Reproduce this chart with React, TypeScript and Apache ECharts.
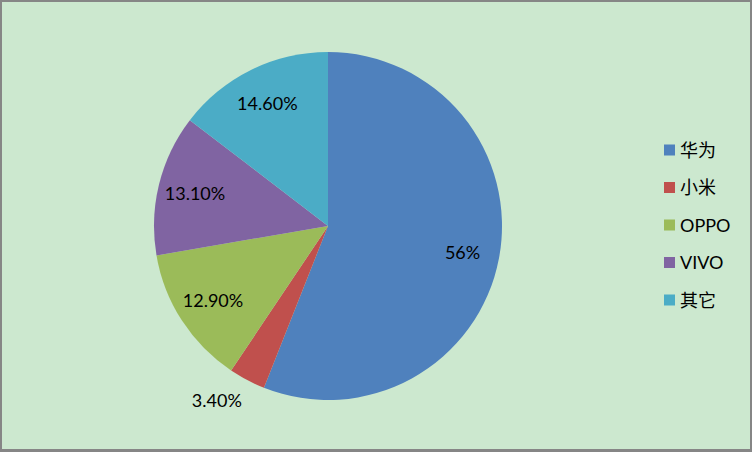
import React, { useEffect, useRef } from "react";
import * as echarts from "echarts";

const categories = ["华为", "小米", "OPPO", "VIVO", "其它"];
const shares = [56, 3.4, 12.9, 13.1, 14.6];
const colors = ["#4F81BD", "#C0504D", "#9BBB59", "#8064A2", "#4BACC6"];
const outsideLabelNames = ["小米"];

const fmt = (v: number) => (Number.isInteger(v) ? `${v}%` : `${v.toFixed(2)}%`);

export default function App() {
  const ref = useRef<HTMLDivElement>(null);
  useEffect(() => {
    if (!ref.current) return;
    const chart = echarts.init(ref.current, null, { renderer: "svg" });
    const font = "Lato, 'Noto Sans CJK SC', sans-serif";
    chart.setOption({
      animation: false,
      backgroundColor: "#CCE8CF",
      textStyle: { fontFamily: font },
      legend: {
        orient: "vertical",
        left: 662,
        top: 139,
        padding: 0,
        itemWidth: 11,
        itemHeight: 11,
        itemGap: 19.5,
        icon: "rect",
        data: categories,
        selectedMode: false,
        textStyle: { fontSize: 18, color: "#000", fontFamily: font },
      },
      series: [
        {
          type: "pie",
          center: [326, 224],
          radius: [0, 174],
          startAngle: 90,
          clockwise: true,
          avoidLabelOverlap: false,
          silent: true,
          itemStyle: { borderWidth: 0 },
          label: {
            show: false,
            position: "outside",
            fontSize: 18,
            color: "#000",
            fontFamily: font,
            offset: [10, 0],
            formatter: (p: any) => fmt(p.value),
          },
          labelLine: { show: false, length: 22, length2: 0 },
          data: categories.map((name, i) => ({
            name,
            value: shares[i],
            itemStyle: { color: colors[i] },
            label: { show: outsideLabelNames.includes(name) },
          })),
        },
        {
          type: "pie",
          center: [326, 224],
          radius: [94, 174],
          startAngle: 90,
          clockwise: true,
          silent: true,
          avoidLabelOverlap: false,
          itemStyle: { color: "rgba(0,0,0,0)", borderWidth: 0 },
          label: {
            show: true,
            position: "inside",
            fontSize: 18,
            color: "#000",
            fontFamily: font,
            formatter: (p: any) => fmt(p.value),
          },
          labelLine: { show: false },
          data: categories.map((name, i) => ({
            name,
            value: shares[i],
            label: { show: !outsideLabelNames.includes(name) },
          })),
        },
      ],
    });
    return () => chart.dispose();
  }, []);
  return (
    <div
      style={{
        position: "fixed",
        left: 0,
        top: 0,
        width: 752,
        height: 452,
        boxSizing: "border-box",
        borderStyle: "solid",
        borderColor: "#868686",
        borderWidth: "2px 2px 3px 2px",
        background: "#CCE8CF",
      }}
    >
      <div ref={ref} style={{ width: 748, height: 447 }} />
    </div>
  );
}
